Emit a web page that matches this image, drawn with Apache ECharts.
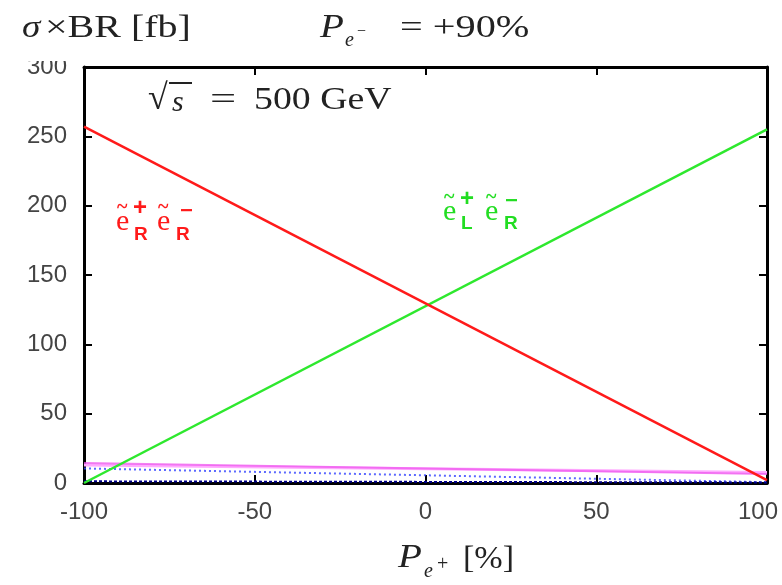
<!DOCTYPE html>
<html>
<head>
<meta charset="utf-8">
<script src="https://cdn.jsdelivr.net/npm/echarts@6/dist/echarts.min.js"></script>
<style>
  html, body { margin: 0; padding: 0; background: #fff; }
  #chart { width: 782px; height: 585px; }
</style>
</head>
<body>
<div id="chart"></div>
<script>
// Positron polarisation (%) at the two ends of each straight cross-section line
const positronPol = [-100, 100];
// σ×BR in fb at P(e+) = -100 % and +100 %
const selRR = [257, 2];        // ẽ+_R ẽ-_R
const selLR = [0, 255];        // ẽ+_L ẽ-_R
const magentaChan = [14.5, 6.5];
const pinkChan = [13, 7.5];
const blueChan = [10.5, 0.6];
const navyChan = [1.2, 0.4];

const xTicks = [-100, -50, 0, 50, 100];
const yTicks = [0, 50, 100, 150, 200, 250, 300];

function pairs(vals) {
  return positronPol.map((p, i) => [p, vals[i]]);
}

const serif = '"Liberation Serif", "DejaVu Serif", serif';
const sans = '"Liberation Sans", Arial, sans-serif';
const bold = '"Liberation Sans", Arial, sans-serif';

// positioned piece of text; sx stretches it horizontally from its left edge
function txt(x, y, text, size, color, opts) {
  opts = opts || {};
  return {
    type: 'text', x: x, y: y, z: 100,
    scaleX: opts.sx || 1,
    style: {
      text: text,
      font: (opts.style || 'normal') + ' ' + (opts.weight || 'normal') + ' ' + size + 'px ' + (opts.family || serif),
      fill: color,
      align: 'left',
      verticalAlign: 'middle'
    }
  };
}

// selectron symbol: e with a tilde on top
function selectron(x, y, color) {
  return [
    txt(x, y + 2, 'e', 30, color),
    txt(x + 1, y - 12, '~', 20, color, { weight: 'bold' })
  ];
}

const chart = echarts.init(document.getElementById('chart'), null, { renderer: 'canvas' });

function axisStyle() {
  return {
    axisLine: { show: true, onZero: false, lineStyle: { color: '#000', width: 3 } },
    axisTick: { show: true, inside: true, length: 8, lineStyle: { color: '#000', width: 2 } },
    splitLine: { show: false }
  };
}

const labelStyle = { color: '#444', fontSize: 24, fontFamily: sans };
const xMax = xTicks[xTicks.length - 1];

const option = {
  animation: false,
  backgroundColor: '#fff',
  grid: { left: 84, right: 15, top: 67, bottom: 102, containLabel: false, outerBoundsMode: 'none' },
  xAxis: [
    Object.assign({
      type: 'value', min: -100, max: 100, interval: 50, position: 'bottom',
      axisLabel: Object.assign({ margin: 17,
        // the last label is nudged left so it stays inside the page
        formatter: v => !xTicks.includes(v) ? '' : (v === xMax ? '{edge|' + v + '}' : String(v)),
        rich: { edge: { fontSize: 24, fontFamily: sans, color: '#444', padding: [0, 18, 0, 0] } }
      }, labelStyle)
    }, axisStyle()),
    Object.assign({
      type: 'value', min: -100, max: 100, interval: 50, position: 'top',
      axisLabel: { show: false }
    }, axisStyle())
  ],
  yAxis: [
    Object.assign({
      type: 'value', min: 0, max: 300, interval: 50, position: 'left',
      axisLabel: Object.assign({ margin: 17,
        formatter: v => yTicks.includes(v) ? String(v) : '' }, labelStyle)
    }, axisStyle()),
    Object.assign({
      type: 'value', min: 0, max: 300, interval: 50, position: 'right',
      axisLabel: { show: false }
    }, axisStyle())
  ],
  series: [
    { type: 'line', data: pairs(pinkChan), symbol: 'none',
      lineStyle: { color: '#ffaaff', width: 3 }, z: 2 },
    { type: 'line', data: pairs(magentaChan), symbol: 'none',
      lineStyle: { color: '#ee55ee', width: 2, opacity: 0.75 }, z: 3 },
    { type: 'line', data: pairs(blueChan), symbol: 'none',
      lineStyle: { color: '#3344ff', width: 2, type: [2, 3], opacity: 0.8 }, z: 3 },
    { type: 'line', data: pairs(navyChan), symbol: 'none',
      lineStyle: { color: '#000088', width: 2, type: [3, 2] }, z: 3 },
    { type: 'line', data: pairs(selLR), symbol: 'none',
      lineStyle: { color: '#2ee82e', width: 2.5 }, z: 4 },
    { type: 'line', data: pairs(selRR), symbol: 'none',
      lineStyle: { color: '#ff1a1a', width: 2.5 }, z: 5 }
  ],
  graphic: [
    // the top of the "300" label sits under the heading band
    { type: 'rect', z: 90, shape: { x: 0, y: 44, width: 80, height: 17 }, style: { fill: '#fff' } },
    // y-axis quantity
    txt(22, 29, 'σ', 31, '#222', { style: 'italic', sx: 1.2 }),
    txt(45, 29, '×BR [fb]', 32, '#222', { sx: 1.25 }),
    // electron polarisation
    txt(320, 28, 'P', 34, '#222', { style: 'italic', sx: 1.15 }),
    txt(345, 41, 'e', 20, '#222', { style: 'italic' }),
    txt(357, 32, '−', 16, '#222'),
    txt(400, 29, '= +90%', 31, '#222', { sx: 1.3 }),
    // centre-of-mass energy
    txt(148, 100, '√', 36, '#222'),
    { type: 'line', z: 100, shape: { x1: 169, y1: 83, x2: 192, y2: 83 }, style: { stroke: '#222', lineWidth: 2 } },
    txt(172, 103, 's', 30, '#222', { style: 'italic' }),
    txt(210, 101, '=', 32, '#222', { sx: 1.45 }),
    txt(254, 101, '500 GeV', 31, '#222', { sx: 1.22 }),
    // red label: ẽ+_R ẽ-_R
    ...selectron(116, 220, '#ff1a1a'),
    txt(133, 208, '+', 24, '#ff1a1a', { weight: 'bold', family: bold }),
    txt(134, 235, 'R', 19, '#ff1a1a', { weight: 'bold', family: bold }),
    ...selectron(157, 220, '#ff1a1a'),
    txt(180, 211, '−', 20, '#ff1a1a', { weight: 'bold', family: bold, sx: 1.1 }),
    txt(176, 235, 'R', 19, '#ff1a1a', { weight: 'bold', family: bold }),
    // green label: ẽ+_L ẽ-_R
    ...selectron(443, 210, '#22dd22'),
    txt(460, 199, '+', 24, '#22dd22', { weight: 'bold', family: bold }),
    txt(461, 224, 'L', 19, '#22dd22', { weight: 'bold', family: bold }),
    ...selectron(485, 210, '#22dd22'),
    txt(505, 201, '−', 20, '#22dd22', { weight: 'bold', family: bold, sx: 1.1 }),
    txt(504, 224, 'R', 19, '#22dd22', { weight: 'bold', family: bold }),
    // x-axis quantity
    txt(398, 558, 'P', 34, '#222', { style: 'italic', sx: 1.15 }),
    txt(424, 572, 'e', 20, '#222', { style: 'italic' }),
    txt(437, 565, '+', 20, '#222'),
    txt(463, 560, '[%]', 31, '#222', { sx: 1.1 })
  ]
};

chart.setOption(option);
</script>
</body>
</html>
